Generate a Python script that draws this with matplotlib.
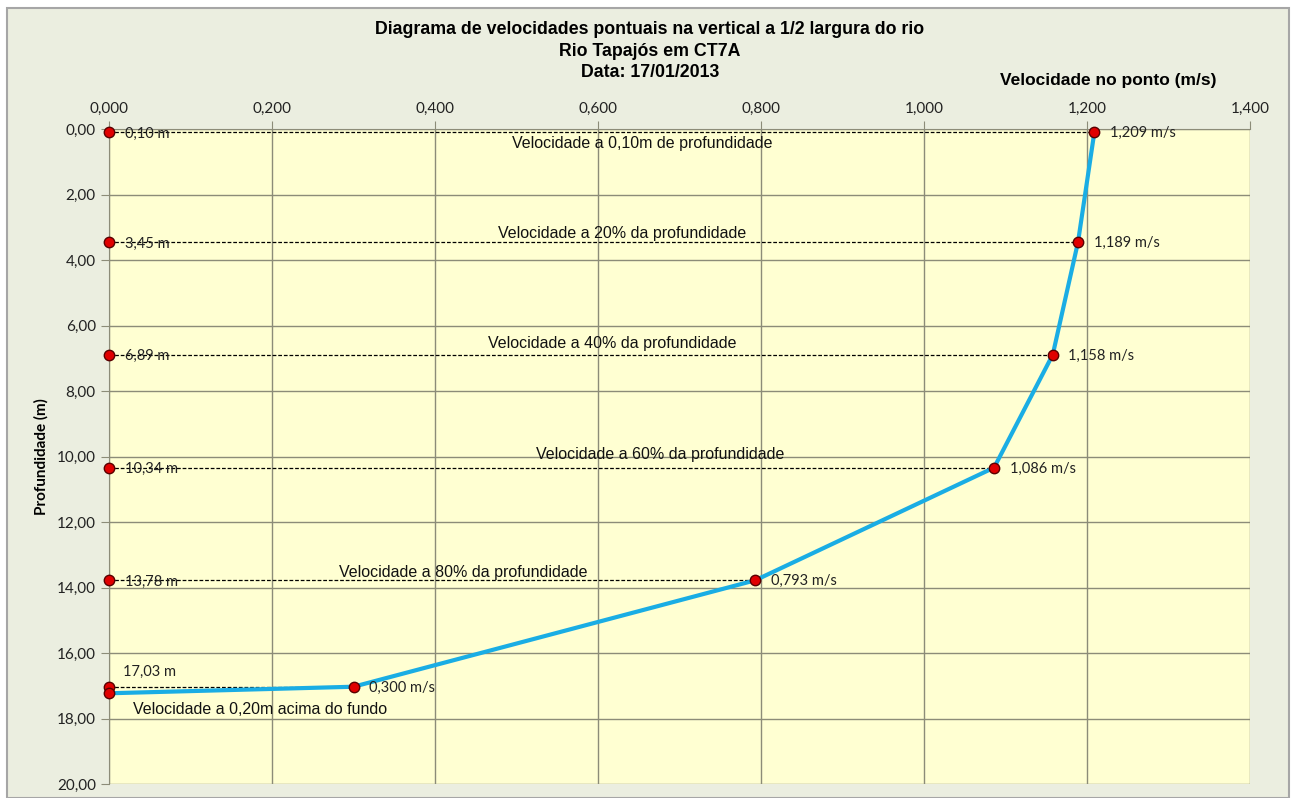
import numpy as np
import matplotlib.pyplot as plt
from matplotlib.patches import Rectangle

# velocidades medidas em cada ponto da vertical
profundidades = [0.10, 3.45, 6.89, 10.34, 13.78, 17.03]
velocidades = [1.209, 1.189, 1.158, 1.086, 0.793, 0.300]
prof_fundo = 17.23  # fundo do rio (velocidade nula)

rotulos_prof = ["0,10 m", "3,45 m", "6,89 m", "10,34 m", "13,78 m", "17,03 m"]
rotulos_vel = ["1,209 m/s", "1,189 m/s", "1,158 m/s", "1,086 m/s", "0,793 m/s", "0,300 m/s"]
descricoes = [
    "Velocidade a 0,10m de profundidade",
    "Velocidade a 20% da profundidade",
    "Velocidade a 40% da profundidade",
    "Velocidade a 60% da profundidade",
    "Velocidade a 80% da profundidade",
    "Velocidade a 0,20m acima do fundo",
]

x_ticks = [0.0, 0.2, 0.4, 0.6, 0.8, 1.0, 1.2, 1.4]
y_ticks = [0, 2, 4, 6, 8, 10, 12, 14, 16, 18, 20]

fundo_grafico = "#EBEEE0"
fundo_area = "#FFFFD2"
cor_grade = "#8C8C78"
azul = "#1AADE4"

fig = plt.figure(figsize=(12.96, 7.98), dpi=100, facecolor="white")
fig.patches.append(Rectangle((7 / 1296, 0.0), 1282 / 1296, 790 / 798,
                             transform=fig.transFigure, facecolor=fundo_grafico,
                             edgecolor="#A6A6A6", lw=1.5, zorder=-10))

ax = fig.add_axes([109 / 1296, 14 / 798, 1141 / 1296, 655 / 798])
ax.set_facecolor(fundo_area)

# perfil de velocidades (inclui o fundo com velocidade zero)
perfil_v = velocidades + [0.0]
perfil_p = profundidades + [prof_fundo]
ax.plot(perfil_v, perfil_p, color=azul, lw=3, zorder=3, solid_capstyle="round")

# linhas tracejadas e marcadores
for p, v in zip(profundidades, velocidades):
    ax.plot([0, v], [p, p], color="black", lw=0.9, ls=(0, (3, 1.5)), zorder=2)
marc = dict(marker="o", ms=7.5, mfc="#E00000", mec="#5A0000", mew=1, ls="none", zorder=5,
            clip_on=False)
ax.plot(velocidades, profundidades, **marc)
ax.plot([0] * len(profundidades) + [0], profundidades + [prof_fundo], **marc)

fonte_rot = "Lato"
fonte_desc = "Liberation Sans"

# rótulos de profundidade e de velocidade
for i, (p, v) in enumerate(zip(profundidades, velocidades)):
    if i == len(profundidades) - 1:
        ax.text(0.017, 16.58, rotulos_prof[i], fontsize=10.5, family=fonte_rot,
                ha="left", va="center", color="#222222", zorder=6)
    else:
        ax.text(0.02, p + 0.05, rotulos_prof[i], fontsize=10.5, family=fonte_rot,
                ha="left", va="center", color="#222222", zorder=6)
    ax.text(v + 0.019, p + 0.03, rotulos_vel[i], fontsize=10.5, family=fonte_rot,
            ha="left", va="center", color="#222222", zorder=6)

pos_desc = [(0.654, 0.43, "center"), (0.63, 3.2, "center"), (0.617, 6.56, "center"),
            (0.676, 9.95, "center"), (0.435, 13.53, "center"), (0.03, 17.71, "left")]
for (x, y, ha), texto in zip(pos_desc, descricoes):
    ax.text(x, y, texto, fontsize=11.5, family=fonte_desc, ha=ha, va="center",
            color="#111111", zorder=6)

ax.set_xlim(0, 1.4)
ax.set_ylim(20, 0)
ax.set_xticks(x_ticks)
ax.set_xticklabels([f"{t:.3f}".replace(".", ",") for t in x_ticks])
ax.set_yticks(y_ticks)
ax.set_yticklabels([f"{t:.2f}".replace(".", ",") for t in y_ticks])
ax.xaxis.tick_top()
ax.tick_params(axis="both", direction="out", length=6, color=cor_grade, labelsize=11,
               labelcolor="#222222")
for lbl in ax.get_xticklabels() + ax.get_yticklabels():
    lbl.set_family(fonte_rot)
ax.grid(True, color=cor_grade, lw=1)
ax.set_axisbelow(True)
for lado in ["left", "top"]:
    ax.spines[lado].set_color(cor_grade)
for lado in ["right", "bottom"]:
    ax.spines[lado].set_visible(False)

ax.set_ylabel("Profundidade (m)", fontsize=11, family=fonte_rot, fontweight="bold",
              labelpad=6)

fig.text(1108 / 1296, 1 - 80 / 798, "Velocidade no ponto (m/s)", fontsize=12.5,
         family=fonte_desc, fontweight="bold", ha="center", va="center")

fig.text(650 / 1296, 1 - 51 / 798,
         "Diagrama de velocidades pontuais na vertical a 1/2 largura do rio\n"
         "Rio Tapajós em CT7A\nData: 17/01/2013",
         fontsize=12.8, family=fonte_desc, fontweight="bold", ha="center", va="center",
         linespacing=1.32)

fig.savefig("out.png", dpi=100, facecolor="white")
